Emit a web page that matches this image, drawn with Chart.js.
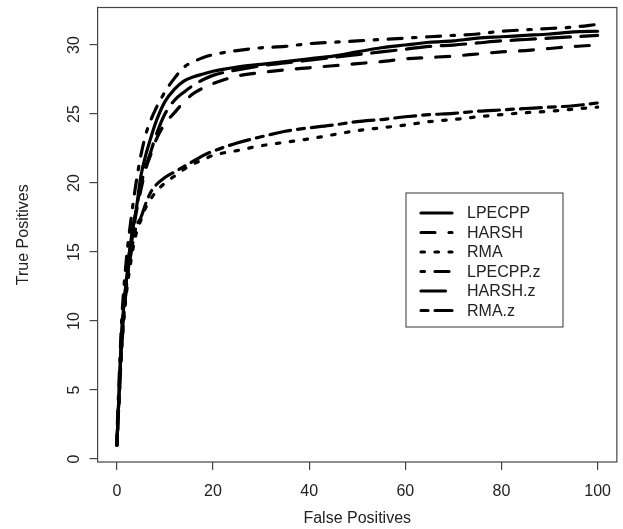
<!DOCTYPE html>
<html><head><meta charset="utf-8">
<script src="https://cdn.jsdelivr.net/npm/chart.js@4"></script>
<style>html,body{margin:0;padding:0;background:#fff;}#wrap{width:623px;height:529px;}</style>
</head><body><div id="wrap"><canvas id="c" width="623" height="529"></canvas></div>
<script>
// ---- data ----
const falsePositives = [0,0.5,1,2,3,4,5,6,7,8,10,12,14,16,18,20,25,30,35,40,45,50,55,60,65,70,75,80,85,90,95,100];
const LPECPP   = [1,5,9,13,16,18,20.5,22,23.2,24.3,25.9,26.8,27.4,27.7,27.9,28.1,28.4,28.6,28.8,29.0,29.2,29.5,29.8,30.0,30.2,30.3,30.5,30.6,30.7,30.8,30.95,31.0];
const HARSH    = [1,5,8.5,12.5,15.5,17.8,19.5,21,22,23,24.3,25.1,25.9,26.5,26.9,27.2,27.75,28.0,28.2,28.35,28.5,28.65,28.8,29.0,29.1,29.2,29.35,29.5,29.6,29.75,29.9,30.0];
const RMA      = [1,4.5,8,12,14.5,16.3,17.3,18.2,18.8,19.3,20.0,20.5,21.0,21.4,21.7,22.0,22.35,22.7,22.95,23.2,23.5,23.8,24.0,24.2,24.45,24.6,24.8,24.95,25.1,25.2,25.35,25.5];
const LPECPP_z = [1.5,6,10,14.5,17.5,20,22,23.5,24.5,25.3,26.6,27.6,28.4,28.8,29.1,29.3,29.6,29.8,29.9,30.1,30.2,30.3,30.4,30.5,30.6,30.7,30.8,31.0,31.1,31.2,31.3,31.5];
const HARSH_z  = [1,5,9,13,16,18,19.8,21.2,22.2,23.3,25,26,26.6,27.1,27.5,27.8,28.2,28.5,28.7,28.9,29.1,29.3,29.5,29.7,29.9,30.0,30.15,30.3,30.4,30.5,30.6,30.7];
const RMA_z    = [1,4.5,8,12.5,15,16.8,17.5,18.5,19.3,19.8,20.4,20.8,21.2,21.6,22.0,22.3,22.9,23.35,23.75,24.0,24.2,24.45,24.6,24.8,24.95,25.05,25.2,25.3,25.4,25.5,25.6,25.8];
const seriesNames = ["LPECPP","HARSH","RMA","LPECPP.z","HARSH.z","RMA.z"];
const xTickValues = [0,20,40,60,80,100];
const yTickValues = [0,5,10,15,20,25,30];

// ---- styles ----
const U = 3.5;
const dashes = [[], [4*U,4*U], [1*U,3*U], [1*U,3*U,4*U,3*U], [7*U,3*U], [2*U,2*U,6*U,2*U]];
const FONT = '"Liberation Sans", Arial, Helvetica, sans-serif';
const TXT = '#222';
const LW = 3.2;

const seriesValues = [LPECPP, HARSH, RMA, LPECPP_z, HARSH_z, RMA_z];
const datasets = seriesValues.map((vals, i) => ({
  label: seriesNames[i],
  data: falsePositives.map((x, j) => ({x: x, y: vals[j]})),
  borderColor: '#000',
  borderWidth: LW,
  borderDash: dashes[i],
  borderCapStyle: 'round',
  borderJoinStyle: 'round',
  pointRadius: 0,
  fill: false,
  cubicInterpolationMode: 'monotone'
}));

const boxPlugin = {
  id: 'rbox',
  afterDraw(chart) {
    const ctx = chart.ctx, a = chart.chartArea;
    ctx.save();
    ctx.strokeStyle = '#444'; ctx.lineWidth = 1.2; ctx.setLineDash([]);
    ctx.strokeRect(a.left, a.top, a.right - a.left, a.bottom - a.top);
    const ys = chart.scales.y;
    ctx.fillStyle = TXT; ctx.font = '16px ' + FONT;
    ctx.textAlign = 'center'; ctx.textBaseline = 'middle';
    yTickValues.forEach(v => {
      const py = ys.getPixelForValue(v);
      ctx.save(); ctx.translate(75, py); ctx.rotate(-Math.PI/2);
      ctx.fillText(String(v), 0, 0); ctx.restore();
    });
    const L = 406, T = 193, R = 563, B = 327;
    ctx.fillStyle = '#fff'; ctx.fillRect(L, T, R-L, B-T);
    ctx.strokeStyle = '#555'; ctx.lineWidth = 1.2;
    ctx.strokeRect(L, T, R-L, B-T);
    seriesNames.forEach((name, i) => {
      const y = 213 + i*19.5;
      ctx.strokeStyle = '#000'; ctx.lineWidth = LW; ctx.lineCap = 'round';
      ctx.setLineDash(dashes[i]);
      ctx.beginPath(); ctx.moveTo(421, y); ctx.lineTo(452, y); ctx.stroke();
      ctx.setLineDash([]);
      ctx.fillStyle = TXT; ctx.textAlign = 'left'; ctx.textBaseline = 'middle';
      ctx.fillText(name, 467, y + 1);
    });
    ctx.restore();
  }
};

new Chart(document.getElementById('c'), {
  type: 'line',
  data: { datasets },
  options: {
    responsive: false, animation: false, devicePixelRatio: 1,
    layout: { padding: { top: 7.5, right: 0.6, left: 0, bottom: 0 } },
    plugins: { legend: { display: false }, tooltip: { enabled: false } },
    scales: {
      x: {
        type: 'linear', min: -4, max: 104,
        afterBuildTicks: s => { s.ticks = xTickValues.map(v => ({value: v})); },
        afterFit: s => { s.height = 67; },
        ticks: { color: TXT, font: { family: FONT, size: 16 }, padding: 12, maxRotation: 0, autoSkip: false,
                 callback: v => String(v) },
        grid: { display: true, drawOnChartArea: false, drawTicks: true, tickLength: 8, color: '#444', lineWidth: 1.2 },
        border: { display: false },
        title: { display: true, text: 'False Positives', color: TXT, font: { family: FONT, size: 16 }, padding: { top: 0, bottom: 1 } }
      },
      y: {
        type: 'linear', min: -0.22, max: 32.72,
        afterBuildTicks: s => { s.ticks = yTickValues.map(v => ({value: v})); },
        afterFit: s => { s.width = 97.6; },
        ticks: { display: false },
        grid: { display: true, drawOnChartArea: false, drawTicks: true, tickLength: 8, color: '#444', lineWidth: 1.2 },
        border: { display: false },
        title: { display: true, text: 'True Positives', color: TXT, font: { family: FONT, size: 16 }, padding: { top: 14, bottom: 0 } }
      }
    }
  },
  plugins: [boxPlugin]
});
</script></body></html>
